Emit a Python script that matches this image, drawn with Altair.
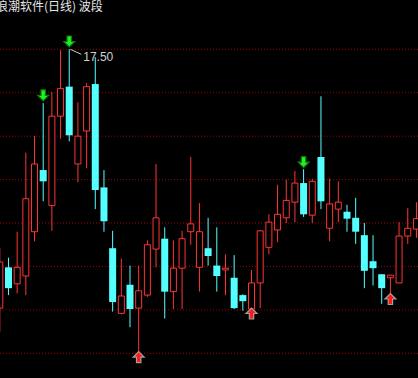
import altair as alt
import pandas as pd

title_text = "浪潮软件(日线) 波段"

opens  = [14.52, 14.99, 14.80, 14.89, 15.40, 16.11, 15.70, 16.73, 17.07, 16.18,
          16.56, 17.10, 15.91, 15.21, 14.46, 14.79, 14.52, 14.67, 15.20, 15.32,
          14.71, 14.98, 15.40, 14.99, 15.21, 15.01, 14.96, 14.87, 14.67, 14.51,
          14.81, 15.22, 15.42, 15.56, 15.74, 15.96, 15.59, 16.26, 15.44, 15.66,
          15.63, 15.56, 15.36, 15.06, 14.91, 14.87, 14.81, 15.35, 15.43]
highs  = [15.21, 15.10, 15.40, 16.31, 16.50, 16.88, 17.01, 17.49, 17.50, 16.89,
          17.11, 17.41, 16.11, 15.41, 15.09, 15.01, 15.01, 15.30, 16.18, 15.45,
          15.30, 15.41, 16.26, 15.73, 15.56, 15.45, 15.14, 15.13, 14.68, 14.96,
          15.42, 15.60, 15.94, 16.00, 16.10, 16.12, 16.01, 16.96, 16.01, 15.98,
          15.71, 15.79, 15.50, 15.36, 14.91, 14.90, 15.51, 15.67, 15.74]
lows   = [14.25, 14.67, 14.69, 14.67, 15.29, 15.75, 15.41, 16.47, 16.44, 15.97,
          16.13, 15.66, 15.40, 14.48, 14.45, 14.30, 14.00, 14.65, 14.99, 14.40,
          14.51, 14.51, 15.25, 14.71, 15.01, 14.71, 14.67, 14.51, 14.49, 14.50,
          14.52, 15.14, 15.28, 15.50, 15.51, 15.57, 15.50, 15.66, 15.29, 15.51,
          15.40, 15.26, 14.75, 14.78, 14.57, 14.65, 14.81, 15.26, 15.33]
closes = [15.05, 14.75, 14.99, 15.78, 16.18, 15.98, 16.73, 17.05, 16.51, 16.50,
          17.07, 15.88, 15.52, 14.59, 14.66, 14.51, 14.72, 15.25, 15.56, 14.71,
          14.98, 15.32, 15.49, 15.40, 15.12, 14.89, 14.98, 14.52, 14.60, 14.81,
          15.41, 15.51, 15.60, 15.76, 15.96, 15.60, 15.98, 15.75, 15.72, 15.74,
          15.55, 15.40, 14.95, 14.98, 14.75, 14.90, 15.35, 15.44, 15.55]

grid_levels = [14.0, 14.5, 15.0, 15.5, 16.0, 16.5, 17.0, 17.5]

sell_idx = [5, 8, 35]
sell_pos = [16.97, 17.59, 16.20]
buy_idx = [16, 29, 45]
buy_pos = [13.957, 14.458, 14.625]

peak_idx = [8]
peak_val = [17.50]
peak_label = ["17.50"]

RED = "#ff3434"
CYAN = "#54ffff"

df = pd.DataFrame({"i": list(range(len(opens))), "open": opens, "high": highs,
                   "low": lows, "close": closes})
df["dir"] = ["up" if c >= o else "down" for o, c in zip(opens, closes)]
df["top"] = [max(o, c) for o, c in zip(opens, closes)]
df["bot"] = [min(o, c) for o, c in zip(opens, closes)]

xs = alt.Scale(domain=[0.023, 48.18], nice=False, zero=False, padding=0)
ys = alt.Scale(domain=[13.7157, 18.0676], nice=False, zero=False, padding=0)
X = alt.X("i:Q", scale=xs, axis=None)

grid = alt.Chart(pd.DataFrame({"lvl": grid_levels})).mark_rule(
    color="#a00000", strokeDash=[1, 2], strokeWidth=1
).encode(y=alt.Y("lvl:Q", scale=ys, axis=None))

base = alt.Chart(df)
wicks = base.mark_rule(strokeWidth=1).encode(
    x=X,
    y=alt.Y("low:Q", scale=ys, axis=None),
    y2="high:Q",
    color=alt.Color("dir:N", scale=alt.Scale(domain=["up", "down"], range=[RED, CYAN]), legend=None),
)
up_bodies = base.transform_filter(alt.datum.dir == "up").mark_bar(
    size=6, fill="black", stroke=RED, strokeWidth=1
).encode(x=X, y=alt.Y("bot:Q", scale=ys, axis=None), y2="top:Q")
down_bodies = base.transform_filter(alt.datum.dir == "down").mark_bar(
    size=7, color=CYAN
).encode(x=X, y=alt.Y("bot:Q", scale=ys, axis=None), y2="top:Q")

down_arrow = "M-0.4,-1L0.4,-1L0.4,0L1,0L0,1L-1,0L-0.4,0Z"
up_arrow = "M-0.4,1L0.4,1L0.4,0L1,0L0,-1L-1,0L-0.4,0Z"

sells = alt.Chart(pd.DataFrame({"i": sell_idx, "p": sell_pos})).mark_point(
    shape=down_arrow, size=121, filled=True, fill="#22f022", stroke="#0a7a0a",
    strokeWidth=1.2, opacity=1
).encode(x=X, y=alt.Y("p:Q", scale=ys, axis=None))
buys = alt.Chart(pd.DataFrame({"i": buy_idx, "p": buy_pos})).mark_point(
    shape=up_arrow, size=121, filled=True, fill="#ff1a1a", stroke="#a0a0a0",
    strokeWidth=1.2, opacity=1
).encode(x=X, y=alt.Y("p:Q", scale=ys, axis=None))

peak_df = pd.DataFrame({"i": peak_idx, "p": peak_val, "t": peak_label})
leader = alt.Chart(peak_df).mark_rule(
    color="#c8c8c8", strokeWidth=1, x2Offset=12, y2Offset=5, xOffset=1
).encode(x=X, x2="i:Q", y=alt.Y("p:Q", scale=ys, axis=None), y2="p:Q")
peak_text = alt.Chart(peak_df).mark_text(
    align="left", baseline="middle", dx=14, dy=8, fontSize=12,
    font="Liberation Sans", color="#d0d0d0"
).encode(x=X, y=alt.Y("p:Q", scale=ys, axis=None), text="t:N")

title = alt.Chart(pd.DataFrame({"t": [title_text]})).mark_text(
    align="left", baseline="alphabetic", fontSize=12, font="Noto Sans CJK SC",
    color="#e6e6e6"
).encode(x=alt.value(-4), y=alt.value(11), text="t:N")

chart = alt.layer(grid, wicks, up_bodies, down_bodies, sells, buys, leader, peak_text, title).properties(
    width=418, height=378, padding=0, autosize=alt.AutoSizeParams(type="none"),
    background="black"
).configure_view(stroke=None)

chart.save("out.html", embed_options={"renderer": "svg", "actions": False})
